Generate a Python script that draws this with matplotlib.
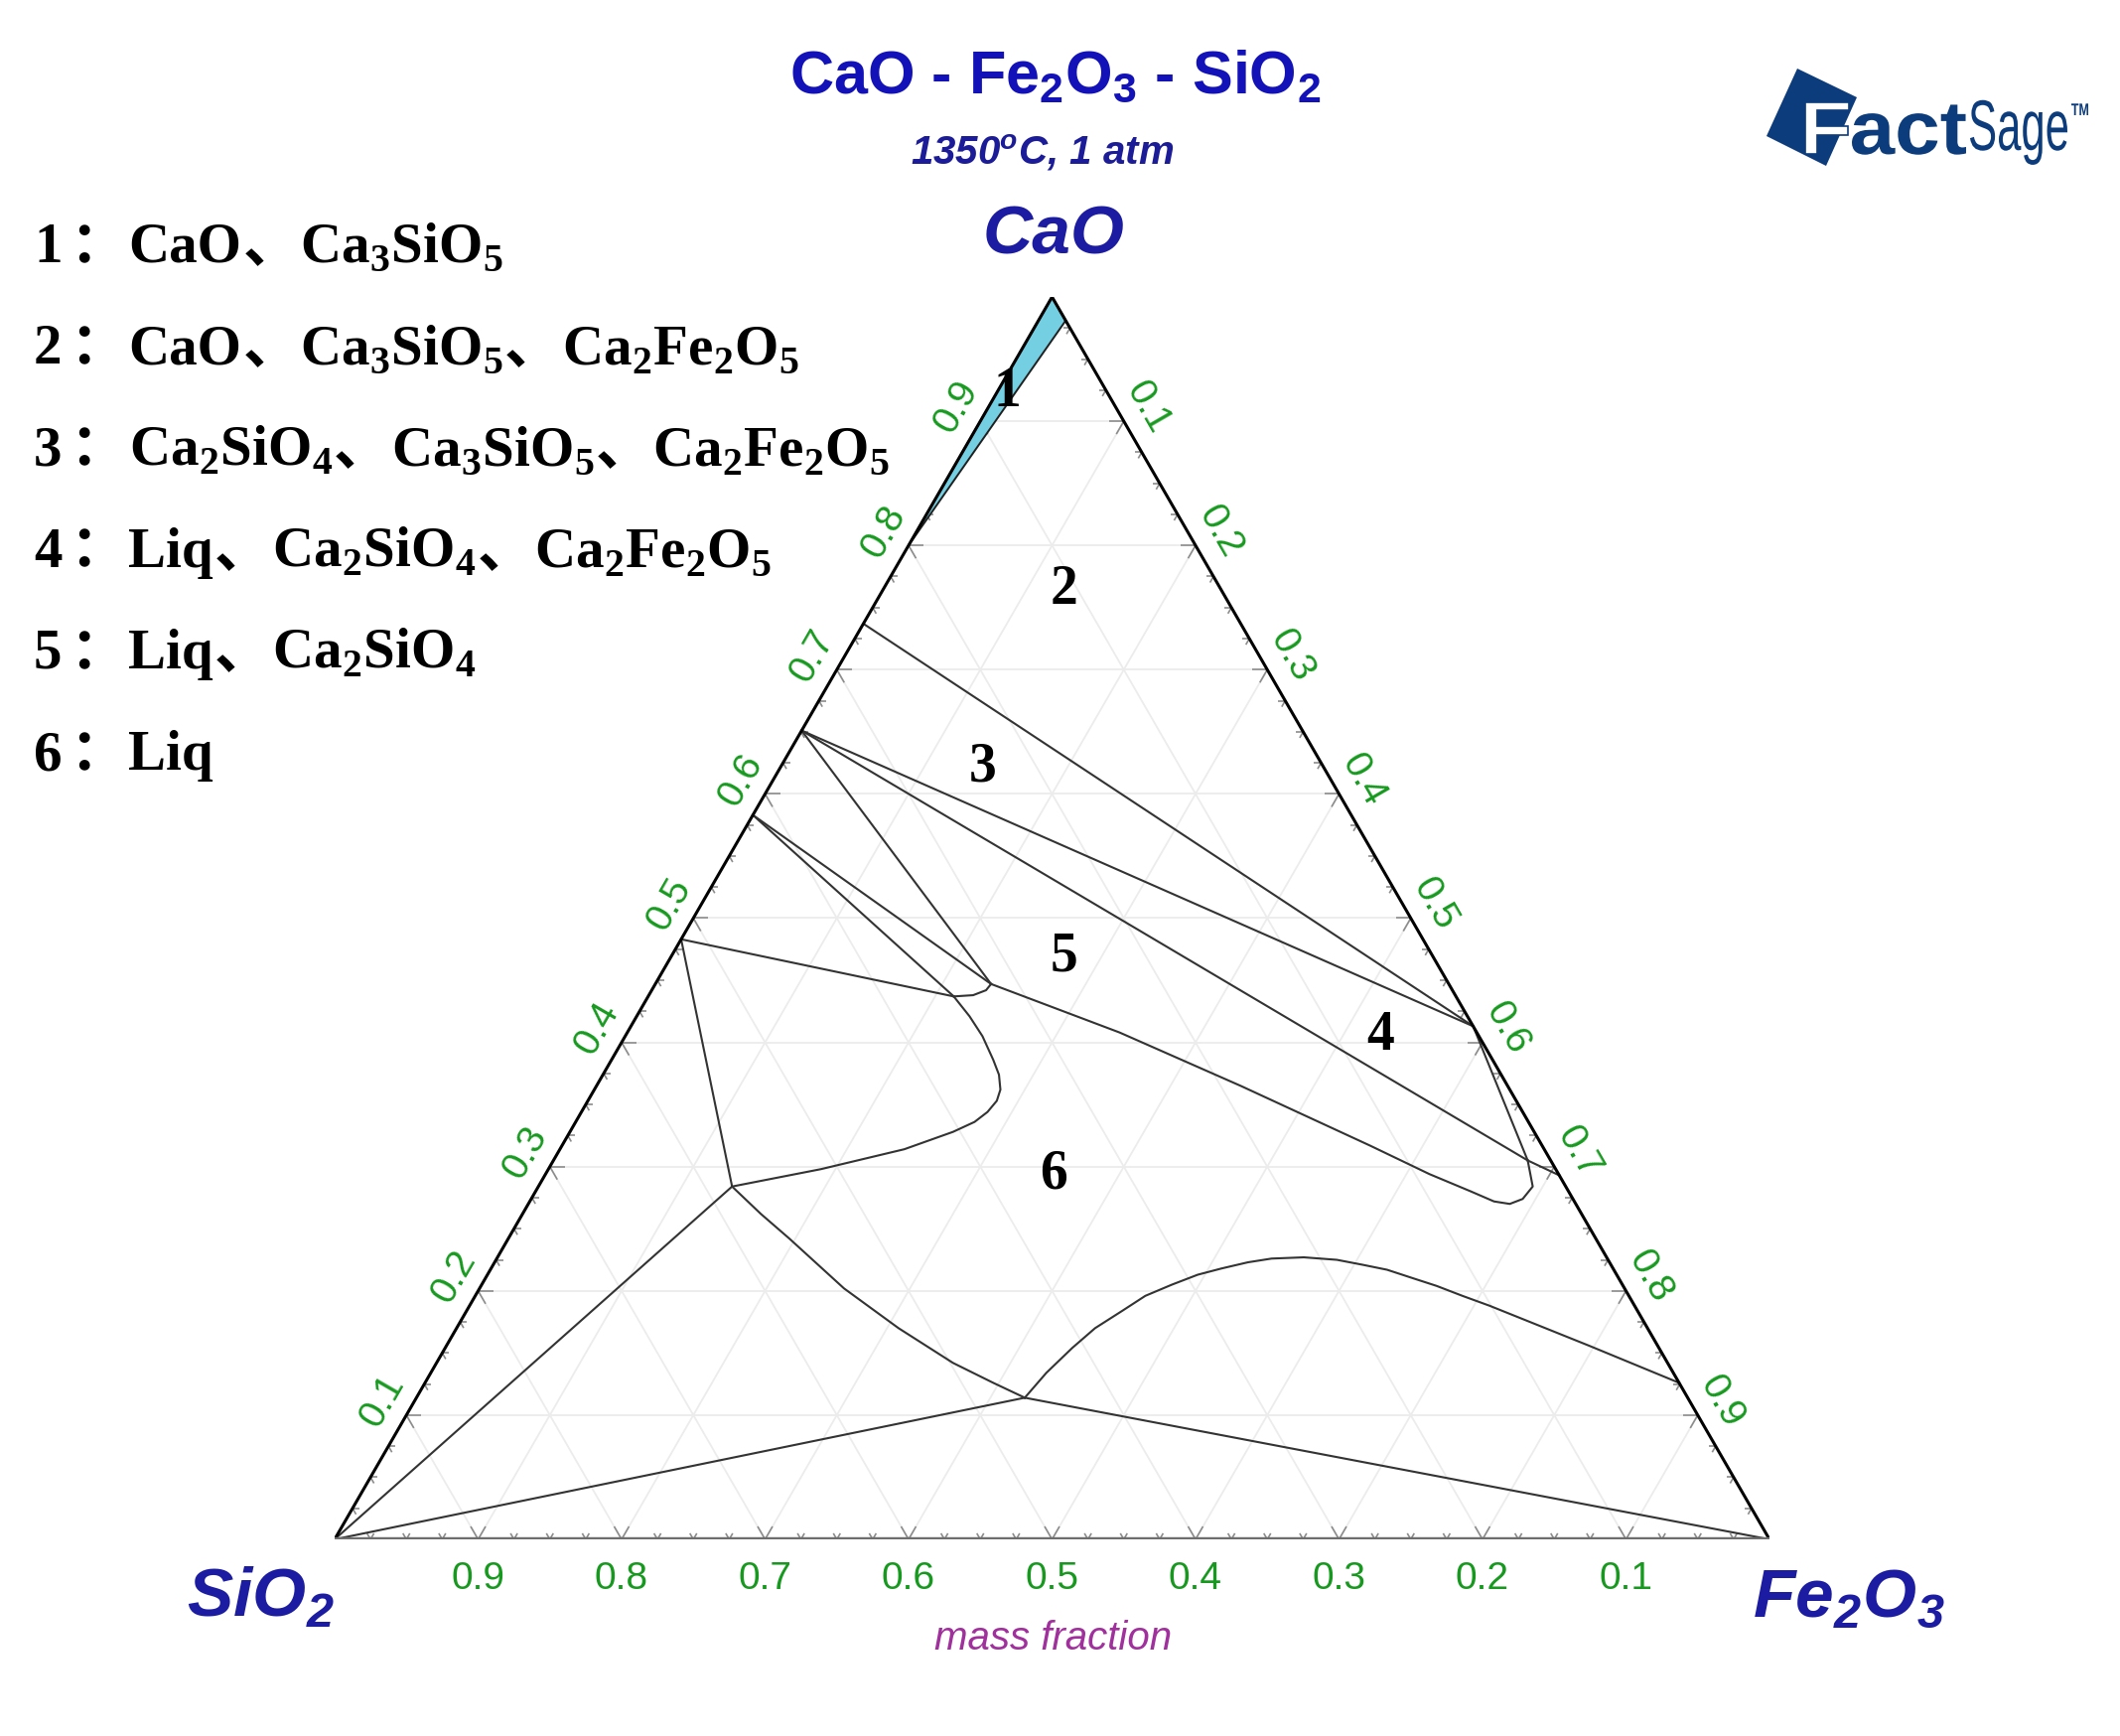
import numpy as np
import matplotlib
matplotlib.use('Agg')
import matplotlib.pyplot as plt
from matplotlib import font_manager
from matplotlib.collections import LineCollection
from matplotlib.patches import PathPatch, Polygon
from matplotlib.textpath import TextPath
from matplotlib.font_manager import FontProperties
from matplotlib.transforms import Affine2D

plt.rcParams['mathtext.fontset'] = 'custom'
plt.rcParams['mathtext.rm'] = 'Liberation Serif:bold'
plt.rcParams['mathtext.sf'] = 'Liberation Sans:bold'
plt.rcParams['mathtext.bf'] = 'Liberation Sans:bold:italic'

names = {f.name for f in font_manager.fontManager.ttflist}
narrow = 'Liberation Sans Narrow' if 'Liberation Sans Narrow' in names else 'Liberation Sans'

W, H = 2135, 1748

# mass fractions (CaO, Fe2O3); SiO2 is the remainder
SiO2_pt = (0.0, 0.0)
Fe2O3_pt = (0.0, 1.0)
C3S = (0.737, 0.0)
C2S = (0.651, 0.0)
C3S2 = (0.583, 0.0)
CS = (0.483, 0.0)
C2F = (0.413, 0.587)
L_a = (0.437, 0.213)
L_b = (0.447, 0.234)
L_1 = (0.305, 0.679)
L_2 = (0.284, 0.135)
L_3 = (0.114, 0.424)
E_1 = (0.293, 0.707)

# region 1 : CaO + Ca3SiO5
reg1_cao = [1.0, 0.981, 0.800]
reg1_fe = [0.0, 0.019, 0.0]

# liquid boundaries
liq_cs_cao = [0.284, 0.298, 0.314, 0.328, 0.336, 0.344, 0.353, 0.362, 0.374, 0.386, 0.405, 0.421, 0.437]
liq_cs_fe = [0.135, 0.190, 0.240, 0.267, 0.278, 0.283, 0.285, 0.283, 0.276, 0.266, 0.249, 0.232, 0.213]

liq_c3s2_cao = [0.437, 0.438, 0.442, 0.447]
liq_c3s2_fe = [0.213, 0.226, 0.233, 0.234]

liq_c2s_cao = [0.447, 0.408, 0.365, 0.317, 0.294, 0.280, 0.272, 0.270, 0.274, 0.284, 0.305]
liq_c2s_fe = [0.234, 0.343, 0.449, 0.563, 0.616, 0.652, 0.672, 0.684, 0.691, 0.693, 0.679]

liq_sio2_cao = [0.284, 0.262, 0.242, 0.222, 0.202, 0.186, 0.170, 0.156, 0.142, 0.126, 0.114]
liq_sio2_fe = [0.135, 0.166, 0.196, 0.225, 0.254, 0.281, 0.308, 0.334, 0.360, 0.396, 0.424]

liq_fe_cao = [0.114, 0.134, 0.154, 0.170, 0.184, 0.196, 0.205, 0.213, 0.218, 0.223, 0.226, 0.227,
              0.225, 0.221, 0.217, 0.210, 0.204, 0.196, 0.188, 0.156, 0.126]
liq_fe_fe = [0.424, 0.429, 0.437, 0.445, 0.457, 0.467, 0.481, 0.495, 0.509, 0.525, 0.540, 0.562,
             0.586, 0.606, 0.625, 0.647, 0.666, 0.688, 0.711, 0.796, 0.874]

tie_lines = [(C3S, C2F), (C2S, C2F), (C2S, L_1), (L_1, E_1), (C2F, L_1),
             (C2S, L_b), (C3S2, L_b), (C3S2, L_a), (CS, L_a), (CS, L_2),
             (SiO2_pt, L_2), (SiO2_pt, L_3), (L_3, Fe2O3_pt)]

tick_vals = [0.1, 0.2, 0.3, 0.4, 0.5, 0.6, 0.7, 0.8, 0.9]
tick_labels = ['0.1', '0.2', '0.3', '0.4', '0.5', '0.6', '0.7', '0.8', '0.9']

region_names = ['1', '2', '3', '4', '5', '6']
legend_phases = [
    ['CaO', 'Ca3SiO5'],
    ['CaO', 'Ca3SiO5', 'Ca2Fe2O5'],
    ['Ca2SiO4', 'Ca3SiO5', 'Ca2Fe2O5'],
    ['Liq', 'Ca2SiO4', 'Ca2Fe2O5'],
    ['Liq', 'Ca2SiO4'],
    ['Liq'],
]


def tern(cao, fe):
    cao = np.asarray(cao, dtype=float)
    fe = np.asarray(fe, dtype=float)
    return fe + cao / 2, cao * np.sqrt(3) / 2


def formula(s):
    return ''.join(r'$_\mathrm{%s}$' % ch if ch.isdigit() else ch for ch in s)


fig = plt.figure(figsize=(W / 100, H / 100), dpi=100)
renderer = fig.canvas.get_renderer()
deco = fig.add_axes([0, 0, 1, 1])
deco.set_xlim(0, W)
deco.set_ylim(H, 0)
deco.axis('off')

ax = fig.add_axes([337 / W, (H - 1550) / H, 1445 / W, 1251 / H])
ax.set_xlim(0, 1)
ax.set_ylim(0, np.sqrt(3) / 2)
ax.axis('off')
px = 1 / 1445

# faint grid
grid_c = '#ececec'
for v in tick_vals:
    for cao, fe in (([v, v], [0, 1 - v]), ([0, 1 - v], [v, v]), ([0, 1 - v], [1 - v, 0])):
        ax.plot(*tern(cao, fe), color=grid_c, lw=1.3, zorder=1)

# edge ticks
segs = []
s3 = np.sqrt(3) / 2
for k in range(1, 40):
    v = k / 40
    ln = (15 if k % 4 == 0 else 7) * px
    for (cao, fe), dirs in (((v, 0), [(1, 0), (0.5, -s3)]),
                            ((0, v), [(0.5, s3), (-0.5, s3)]),
                            ((v, 1 - v), [(-1, 0), (-0.5, -s3)])):
        x0, y0 = tern(cao, fe)
        for dx, dy in dirs:
            segs.append([(x0, y0), (x0 + dx * ln, y0 + dy * ln)])
ax.add_collection(LineCollection(segs, colors='#8c8c8c', linewidths=1.2, zorder=2))

# triangle edges
ax.plot(*tern([0, 1, 0], [0, 0, 1]), color='black', lw=2.2, zorder=6, solid_capstyle='round')
ax.plot(*tern([0, 0], [0, 1]), color='#6e6e6e', lw=3.2, zorder=6)

# region 1 sliver
ax.fill(*tern(reg1_cao, reg1_fe), facecolor='#74cfe3', edgecolor='#202020', lw=1.4, zorder=3)

line_c = '#333333'
for cao, fe in ((liq_cs_cao, liq_cs_fe), (liq_c3s2_cao, liq_c3s2_fe), (liq_c2s_cao, liq_c2s_fe),
                (liq_sio2_cao, liq_sio2_fe), (liq_fe_cao, liq_fe_fe)):
    ax.plot(*tern(cao, fe), color=line_c, lw=1.5, zorder=4, solid_joinstyle='round')
for a, b in tie_lines:
    ax.plot(*tern([a[0], b[0]], [a[1], b[1]]), color=line_c, lw=1.5, zorder=4)

# tick labels
green = '#17991f'
tk = dict(color=green, fontsize=28, family=narrow, ha='center', va='center')
off = 28 * px
for v, lab in zip(tick_vals, tick_labels):
    x, y = tern(0, 1 - v)
    ax.text(x, y - 40 * px, lab, **tk)
    x, y = tern(v, 0)
    ax.text(x - off * s3, y + off * 0.5, lab, rotation=60, rotation_mode='anchor', **tk)
    x, y = tern(1 - v, v)
    ax.text(x + off * s3, y + off * 0.5, lab, rotation=-60, rotation_mode='anchor', **tk)

# region numbers (placed in picture pixels)
serif_b = dict(family='Liberation Serif', weight='bold', color='black')
for name, (x, y) in zip(region_names, [(1014, 395), (1072, 594), (990, 772),
                                       (1390, 1043), (1072, 963), (1061, 1182)]):
    ax.text((x - 337) * px, (1550 - y) * px, name, fontsize=40, ha='center', va='center',
            zorder=10, **serif_b)

# legend text, pieces chained left to right
fs = 41
cjk = dict(family='Noto Sans CJK SC', weight='bold', color='black', fontsize=fs, va='baseline')
for i, phases in enumerate(legend_phases):
    y = 264 + i * 102.2
    t = deco.text(34, y, str(i + 1), fontsize=fs, ha='left', va='baseline', **serif_b)
    x = t.get_window_extent(renderer).x1
    c = deco.text(x + 8, y, '：', ha='left', **cjk)
    x = c.get_window_extent(renderer).x1 + 2
    for j, ph in enumerate(phases):
        if j > 0:
            c = deco.text(x + 1, y, '、', ha='left', **cjk)
            x = c.get_window_extent(renderer).x1 + 1
        t = deco.text(x, y, formula(ph), fontsize=fs, ha='left', va='baseline', **serif_b)
        x = t.get_window_extent(renderer).x1

# titles and corner labels
deco.text(1063, 94, 'CaO - Fe' + r'$_\mathsf{2}$' + 'O' + r'$_\mathsf{3}$' + ' - SiO' + r'$_\mathsf{2}$',
          fontsize=44, family='Liberation Sans', weight='bold', color='#1212b8',
          ha='center', va='baseline')
deco.text(1050, 165, '1350' + r'$^\mathbf{o}$' + 'C, 1 atm', fontsize=29, family='Liberation Sans',
          weight='bold', style='italic', color='#1c1c98', ha='center', va='baseline')
corner = dict(fontsize=50, family='Liberation Sans', weight='bold', style='italic',
              color='#1c1ca2', ha='center', va='baseline')
deco.text(1061, 256, 'CaO', **corner)
deco.text(262, 1628, 'SiO' + r'$_\mathbf{2}$', **corner)
deco.text(1862, 1628, 'Fe' + r'$_\mathbf{2}$' + 'O' + r'$_\mathbf{3}$', **corner)
deco.text(1061, 1650, 'mass fraction', fontsize=29, family='Liberation Sans', style='italic',
          color='#a0309c', ha='center', va='center')

# FactSage logo
navy = '#0c3c7c'
deco.add_patch(Polygon([(1779, 137), (1810, 69), (1870, 98), (1839, 167)], closed=True,
                       fc=navy, ec='none', zorder=3))


def logo_text(s, x0, x1, base, size, prop, **kw):
    tp = TextPath((0, 0), s, size=size, prop=prop)
    ext = tp.get_extents()
    sx = (x1 - x0) / ext.width
    tr = Affine2D().translate(-ext.x0, 0).scale(sx, -1).translate(x0, base)
    deco.add_patch(PathPatch(tr.transform_path(tp), zorder=4, **kw))


bold_sans = FontProperties(family='Liberation Sans', weight='bold')
logo_text('F', 1818, 1862, 155, 76, bold_sans, fc='white', ec=navy, lw=1.2)
logo_text('act', 1865, 1980, 155, 76, bold_sans, fc=navy, ec='none')
logo_text('Sage', 1984, 2082, 151, 72, FontProperties(family=narrow), fc=navy, ec='none')
logo_text('TM', 2086, 2103, 116, 17, bold_sans, fc=navy, ec='none')

fig.savefig('out.png', dpi=100, facecolor='white')
